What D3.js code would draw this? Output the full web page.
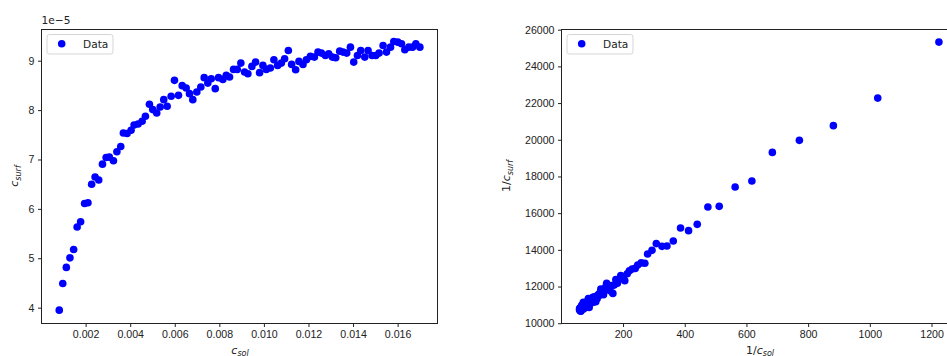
<!DOCTYPE html>
<html lang="en">
<head>
    <meta charset="UTF-8">
    <title>c_surf vs c_sol</title>
    <script src="https://d3js.org/d3.v7.min.js"></script>
    <style>
        body { margin: 0; background: #fff; }
        svg { display: block; font-family: "DejaVu Sans", sans-serif; }
        .tick text { font-size: 10.6px; fill: #222; }
        .tick line { stroke: #222; }
    </style>
</head>
<body>
    <script>
// c_sol in units of 1e-3, c_surf in units of 1e-5
var cSolMilli = [0.817, 0.975, 1.134, 1.296, 1.462, 1.619, 1.775, 1.954, 2.105, 2.270,
                 2.425, 2.588, 2.756, 2.921, 3.066, 3.249, 3.403, 3.576, 3.694, 3.861,
                 4.040, 4.175, 4.355, 4.535, 4.683, 4.863, 5.011, 5.191, 5.344, 5.506,
                 5.658, 5.838, 5.987, 6.166, 6.333, 6.512, 6.661, 6.809, 6.989, 7.169,
                 7.321, 7.483, 7.636, 7.816, 7.964, 8.157, 8.310, 8.458, 8.638, 8.804,
                 8.966, 9.133, 9.281, 9.461, 9.627, 9.807, 9.955, 10.108, 10.288, 10.449,
                 10.616, 10.782, 10.930, 11.097, 11.245, 11.425, 11.573, 11.753, 11.906, 12.085,
                 12.265, 12.427, 12.580, 12.760, 12.908, 13.074, 13.222, 13.402, 13.551, 13.717,
                 13.883, 14.031, 14.198, 14.346, 14.526, 14.674, 14.854, 15.020, 15.169, 15.348,
                 15.501, 15.681, 15.829, 16.009, 16.175, 16.324, 16.503, 16.670, 16.818, 16.998];
var cSurfE5 = [3.949, 4.490, 4.815, 5.008, 5.178, 5.634, 5.740, 6.109, 6.123, 6.498,
               6.646, 6.584, 6.906, 7.039, 7.047, 6.974, 7.157, 7.262, 7.537, 7.525,
               7.592, 7.699, 7.719, 7.774, 7.875, 8.117, 8.010, 7.941, 8.063, 8.212,
               8.077, 8.279, 8.602, 8.299, 8.495, 8.446, 8.333, 8.212, 8.366, 8.467,
               8.657, 8.547, 8.636, 8.434, 8.657, 8.622, 8.703, 8.669, 8.824, 8.824,
               8.952, 8.770, 8.737, 8.885, 8.972, 8.758, 8.905, 8.824, 8.851, 9.020,
               8.905, 8.952, 9.040, 9.208, 8.925, 8.818, 8.986, 8.925, 9.020, 9.087,
               9.073, 9.174, 9.154, 9.107, 9.141, 9.073, 9.061, 9.194, 9.174, 9.154,
               9.275, 8.972, 9.107, 9.208, 9.073, 9.208, 9.107, 9.107, 9.154, 9.309,
               9.174, 9.275, 9.390, 9.376, 9.343, 9.222, 9.275, 9.275, 9.343, 9.275];

var leftXTicks = [0.002, 0.004, 0.006, 0.008, 0.010, 0.012, 0.014, 0.016];
var leftYTicks = [4, 5, 6, 7, 8, 9];
var rightXTicks = [200, 400, 600, 800, 1000, 1200];
var rightYTicks = [10000, 12000, 14000, 16000, 18000, 20000, 22000, 24000, 26000];

var width = 947, height = 356;
var dotR = 3.8;

var svg = d3.select('body').append('svg')
            .attr('width', width)
            .attr('height', height);

var points = cSolMilli.map(function(d, i) {
    return { x: d * 1e-3, y: cSurfE5[i] };
});
var inv = cSolMilli.map(function(d, i) {
    return { x: 1 / (d * 1e-3), y: 1 / (cSurfE5[i] * 1e-5) };
});

function drawPanel(opt) {
    var g = svg.append('g');
    var x = d3.scaleLinear().domain(opt.xDom).range([opt.x0, opt.x1]);
    var y = d3.scaleLinear().domain(opt.yDom).range([opt.y1, opt.y0]);

    g.append('g')
     .attr('transform', 'translate(0,' + opt.y1 + ')')
     .call(d3.axisBottom(x).tickValues(opt.xTicks).tickFormat(opt.xFmt).tickSize(3.5).tickPadding(3.5))
     .call(function(s) { s.select('.domain').remove(); });

    g.append('g')
     .attr('transform', 'translate(' + opt.x0 + ',0)')
     .call(d3.axisLeft(y).tickValues(opt.yTicks).tickFormat(opt.yFmt).tickSize(3.5).tickPadding(3.5))
     .call(function(s) { s.select('.domain').remove(); });

    g.selectAll('circle.dot')
     .data(opt.data)
     .enter().append('circle')
     .attr('class', 'dot')
     .attr('cx', function(d) { return x(d.x); })
     .attr('cy', function(d) { return y(d.y); })
     .attr('r', dotR)
     .attr('fill', '#0000ff');

    // spines
    g.append('rect')
     .attr('x', opt.x0).attr('y', opt.y0)
     .attr('width', opt.x1 - opt.x0).attr('height', opt.y1 - opt.y0)
     .attr('fill', 'none').attr('stroke', '#222').attr('stroke-width', 1);

    // legend
    var lg = g.append('g').attr('transform', 'translate(' + (opt.x0 + 5.5) + ',' + (opt.y0 + 5) + ')');
    lg.append('rect')
      .attr('width', 66).attr('height', 19.5).attr('rx', 2.5)
      .attr('fill', '#fff').attr('fill-opacity', 0.8)
      .attr('stroke', '#d5d5d5').attr('stroke-width', 1);
    lg.append('circle').attr('cx', 14.7).attr('cy', 9.3).attr('r', dotR).attr('fill', '#0000ff');
    lg.append('text').attr('x', 36).attr('y', 13.4)
      .style('font-size', '10.6px').attr('fill', '#222').text('Data');

    return g;
}

function mathLabel(sel, pre, base, sub) {
    var t = sel.append('text').style('font-size', '11px').attr('fill', '#222');
    if (pre) t.append('tspan').text(pre);
    t.append('tspan').style('font-style', 'italic').text(base);
    t.append('tspan').style('font-style', 'italic').style('font-size', '8px')
     .attr('dy', 2.5).text(sub);
    return t;
}

drawPanel({
    data: points, x0: 41.5, x1: 437.5, y0: 29.5, y1: 323.5,
    xDom: [0.00002, 0.01779], yDom: [3.679, 9.632],
    xTicks: leftXTicks, yTicks: leftYTicks,
    xFmt: d3.format('.3f'), yFmt: d3.format('d')
});

drawPanel({
    data: inv, x0: 561.5, x1: 957, y0: 29.5, y1: 323.5,
    xDom: [0.5, 1282.6], yDom: [9985, 26010],
    xTicks: rightXTicks, yTicks: rightYTicks,
    xFmt: d3.format('d'), yFmt: d3.format('d')
});

// offset text
svg.append('text').attr('x', 41.5).attr('y', 24).style('font-size', '10.6px')
   .attr('fill', '#222').text('1e\u22125');

// axis labels
mathLabel(svg, '', 'c', 'sol').attr('text-anchor', 'middle')
    .attr('transform', 'translate(240,353.5)');
mathLabel(svg, '', 'c', 'surf').attr('text-anchor', 'middle')
    .attr('transform', 'translate(18,176) rotate(-90)');
mathLabel(svg, '1/', 'c', 'sol').attr('text-anchor', 'middle')
    .attr('transform', 'translate(760,353.5)');
mathLabel(svg, '1/', 'c', 'surf').attr('text-anchor', 'middle')
    .attr('transform', 'translate(510,176) rotate(-90)');
    </script>
</body>
</html>
